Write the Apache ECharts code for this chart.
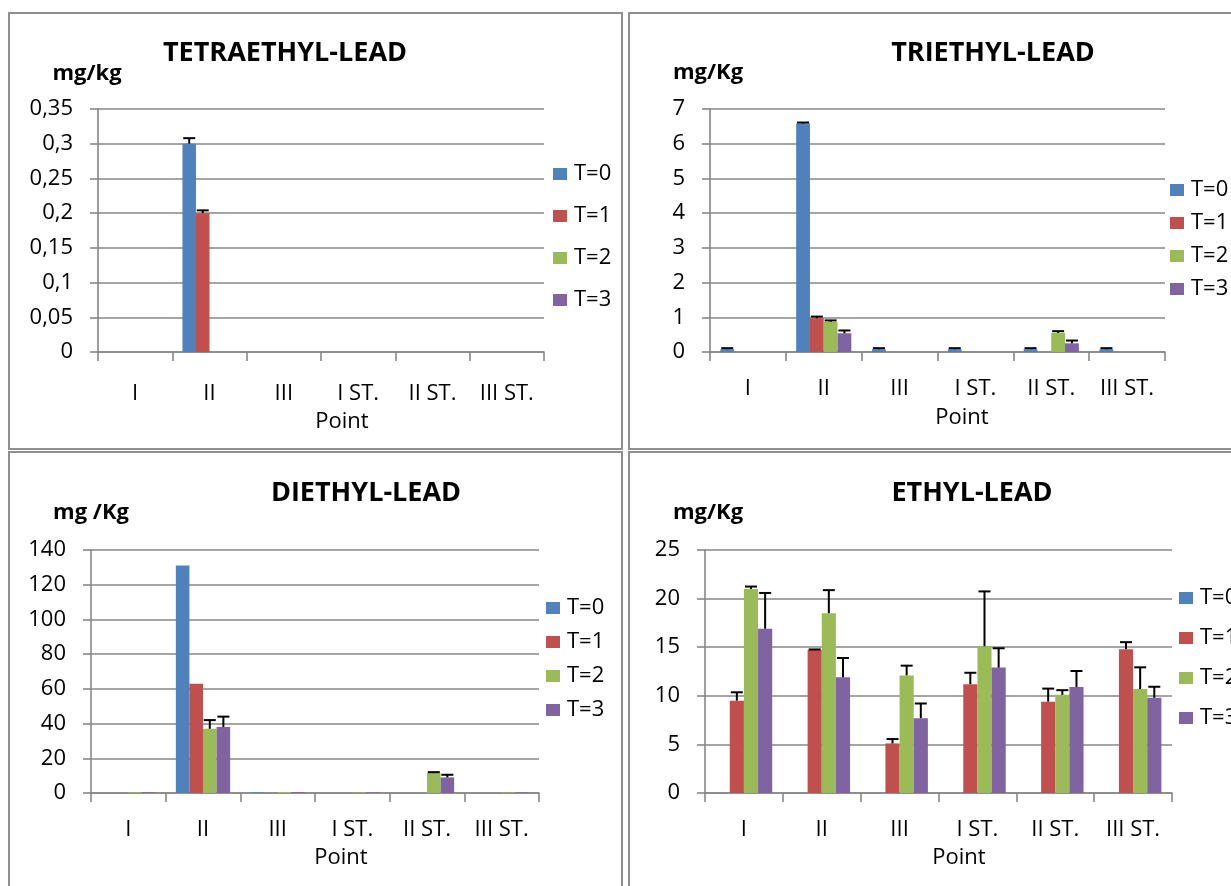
<!DOCTYPE html>
<html>
<head>
<meta charset="utf-8">
<title>Alkyl-lead concentrations by sampling point</title>
<script src="https://cdn.jsdelivr.net/npm/echarts@6/dist/echarts.min.js"></script>
<style>
  html, body { margin: 0; padding: 0; background: #fff; }
  #chart { width: 1231px; height: 886px; }
</style>
</head>
<body>
<div id="chart"></div>
<script>
// Sampling points and sampling times
const categories = ['I', 'II', 'III', 'I ST.', 'II ST.', 'III ST.'];
const timeLabels = ['T=0', 'T=1', 'T=2', 'T=3'];

// TETRAETHYL-LEAD (mg/kg): one row per sampling time
const tetraMeans = [
  [0, 0.30, 0, 0, 0, 0],
  [0, 0.20, 0, 0, 0, 0],
  [0, 0, 0, 0, 0, 0],
  [0, 0, 0, 0, 0, 0]
];
const tetraErrors = [
  [null, 0.008, null, null, null, null],
  [null, 0.004, null, null, null, null],
  [null, null, null, null, null, null],
  [null, null, null, null, null, null]
];

// TRIETHYL-LEAD (mg/Kg)
const triMeans = [
  [0.08, 6.58, 0.08, 0.08, 0.08, 0.08],
  [0, 0.97, 0, 0, 0, 0],
  [0, 0.87, 0, 0, 0.55, 0],
  [0, 0.54, 0, 0, 0.25, 0]
];
const triErrors = [
  [0.03, 0.03, 0.03, 0.03, 0.03, 0.03],
  [null, 0.05, null, null, null, null],
  [null, 0.04, null, null, 0.05, null],
  [null, 0.08, null, null, 0.08, null]
];

// DIETHYL-LEAD (mg/Kg)
const diMeans = [
  [0, 131, 0.3, 0, 0, 0],
  [0, 63, 0, 0, 0, 0],
  [0.4, 37, 0.6, 0.3, 11.5, 0.3],
  [0.4, 38, 0.5, 0.3, 9.0, 0.3]
];
const diErrors = [
  [null, null, null, null, null, null],
  [null, null, null, null, null, null],
  [null, 5, null, null, 0.5, null],
  [null, 6, null, null, 1.5, null]
];

// ETHYL-LEAD (mg/Kg)
const ethMeans = [
  [0, 0, 0, 0, 0, 0],
  [9.5, 14.7, 5.1, 11.2, 9.4, 14.8],
  [21.0, 18.5, 12.1, 15.1, 10.1, 10.7],
  [16.9, 11.9, 7.7, 12.9, 10.9, 9.8]
];
const ethErrors = [
  [null, null, null, null, null, null],
  [0.86, 0.07, 0.45, 1.17, 1.34, 0.72],
  [0.24, 2.37, 1.0, 5.64, 0.48, 2.23],
  [3.68, 1.99, 1.51, 1.99, 1.65, 1.13]
];

// Y-axis ranges
const tetraAxis = { min: 0, max: 0.35, interval: 0.05 };
const triAxis = { min: 0, max: 7, interval: 1 };
const diAxis = { min: 0, max: 140, interval: 20 };
const ethAxis = { min: 0, max: 25, interval: 5 };

const FONT = "'Open Sans', 'Liberation Sans', sans-serif";
const GRID_GRAY = '#878787';
const palette = ['#4F81BD', '#C0504D', '#9BBB59', '#8064A2'];

const panels = [
  {
    title: 'TETRAETHYL-LEAD', unit: 'mg/kg', means: tetraMeans, errors: tetraErrors, axis: tetraAxis,
    grid: { left: 98, top: 109, width: 446, height: 243 },
    labelMargin: 31, comma: true,
    titlePos: [285, 53], unitPos: [87, 74], pointPos: [342, 422],
    legend: { left: 553, top: 163, gap: 20 }
  },
  {
    title: 'TRIETHYL-LEAD', unit: 'mg/Kg', means: triMeans, errors: triErrors, axis: triAxis,
    grid: { left: 710, top: 109, width: 455, height: 243 },
    labelMargin: 26, comma: false,
    titlePos: [993, 53], unitPos: [708, 73], pointPos: [962, 418],
    legend: { left: 1170, top: 179, gap: 11 }
  },
  {
    title: 'DIETHYL-LEAD', unit: 'mg /Kg', means: diMeans, errors: diErrors, axis: diAxis,
    grid: { left: 91, top: 550, width: 448, height: 243 },
    labelMargin: 26, comma: false,
    titlePos: [366, 493], unitPos: [91, 513], pointPos: [341, 858],
    legend: { left: 546, top: 597, gap: 12 }
  },
  {
    title: 'ETHYL-LEAD', unit: 'mg/Kg', means: ethMeans, errors: ethErrors, axis: ethAxis,
    grid: { left: 705, top: 550, width: 467, height: 243 },
    labelMargin: 26, comma: false,
    titlePos: [972, 493], unitPos: [708, 513], pointPos: [959, 858],
    legend: { left: 1179, top: 587, gap: 18 }
  }
];

// Error bars: vertical stem from the bar top plus a cap, placed over the matching bar
function renderErrorBar(params, api) {
  const cat = api.value(0);
  const k = api.value(1);
  const v = api.value(2);
  const e = api.value(3);
  const band = api.size([1, 0])[0];
  const bw = band / 5.5;
  const off = (k - 1.5) * bw;
  const p0 = api.coord([cat, v]);
  const p1 = api.coord([cat, v + e]);
  const x = p0[0] + off;
  const stroke = { stroke: '#000', lineWidth: 2 };
  return {
    type: 'group',
    children: [
      { type: 'line', shape: { x1: x, y1: p0[1], x2: x, y2: p1[1] }, style: stroke },
      { type: 'line', shape: { x1: x - 6, y1: p1[1], x2: x + 6, y2: p1[1] }, style: stroke }
    ]
  };
}

const grids = [], xAxes = [], yAxes = [], series = [], legends = [], graphics = [];

panels.forEach((p, i) => {
  grids.push(Object.assign({ containLabel: false }, p.grid));
  xAxes.push({
    type: 'category', gridIndex: i, data: categories,
    axisLine: { show: true, lineStyle: { color: GRID_GRAY, width: 1.6 } },
    axisTick: { show: true, length: 9, lineStyle: { color: GRID_GRAY, width: 1.6 } },
    axisLabel: { color: '#000', fontSize: 22, fontFamily: FONT, margin: p.labelMargin, interval: 0 },
    splitLine: { show: false }
  });
  yAxes.push({
    type: 'value', gridIndex: i,
    min: p.axis.min, max: p.axis.max, interval: p.axis.interval,
    axisLine: { show: true, lineStyle: { color: GRID_GRAY, width: 1.6 } },
    axisTick: { show: true, length: 8, lineStyle: { color: GRID_GRAY, width: 1.6 } },
    axisLabel: {
      color: '#000', fontSize: 22, fontFamily: FONT, margin: 25,
      formatter: p.comma ? (v => String(+v.toFixed(2)).replace('.', ',')) : (v => String(v))
    },
    splitLine: { show: true, lineStyle: { color: GRID_GRAY, width: 1.6 } }
  });

  timeLabels.forEach((name, k) => {
    series.push({
      type: 'bar', name, xAxisIndex: i, yAxisIndex: i,
      data: p.means[k],
      barGap: '0%', barCategoryGap: '27.27%',
      itemStyle: { color: palette[k] },
      emphasis: { disabled: true },
      z: 2
    });
  });

  const errData = [];
  timeLabels.forEach((name, k) => {
    p.errors[k].forEach((e, c) => {
      if (e !== null) errData.push([c, k, p.means[k][c], e]);
    });
  });
  series.push({
    type: 'custom', name: 'error-' + i, xAxisIndex: i, yAxisIndex: i,
    renderItem: renderErrorBar, data: errData,
    encode: { x: 0, y: 2 }, z: 5, silent: true
  });

  legends.push({
    data: timeLabels, orient: 'vertical', left: p.legend.left, top: p.legend.top,
    itemGap: p.legend.gap, itemWidth: 14, itemHeight: 12, icon: 'rect', padding: 0,
    textStyle: { color: '#000', fontSize: 22, fontFamily: FONT, padding: [0, 0, 0, 2] },
    selectedMode: false
  });

  graphics.push(
    { type: 'text', x: p.titlePos[0], y: p.titlePos[1],
      style: { text: p.title, fill: '#000', font: 'bold 27px ' + FONT, align: 'center', verticalAlign: 'middle', textAlign: 'center', textVerticalAlign: 'middle' } },
    { type: 'text', x: p.unitPos[0], y: p.unitPos[1],
      style: { text: p.unit, fill: '#000', font: 'bold 22px ' + FONT, align: 'center', verticalAlign: 'middle', textAlign: 'center', textVerticalAlign: 'middle' } },
    { type: 'text', x: p.pointPos[0], y: p.pointPos[1],
      style: { text: 'Point', fill: '#000', font: '22px ' + FONT, align: 'center', verticalAlign: 'middle', textAlign: 'center', textVerticalAlign: 'middle' } }
  );
});

// Panel frames
const frameStyle = { fill: 'none', stroke: '#8f8f8f', lineWidth: 2 };
[
  { x: 9, y: 13, width: 613, height: 436 },
  { x: 629, y: 13, width: 620, height: 436 },
  { x: 9, y: 452, width: 613, height: 450 },
  { x: 629, y: 452, width: 620, height: 450 }
].forEach(r => graphics.push({ type: 'rect', shape: r, style: frameStyle, silent: true, z: -1 }));

const chart = echarts.init(document.getElementById('chart'), null, { renderer: 'canvas' });
chart.setOption({
  animation: false,
  backgroundColor: '#fff',
  color: palette,
  textStyle: { fontFamily: FONT },
  grid: grids,
  xAxis: xAxes,
  yAxis: yAxes,
  legend: legends,
  series: series,
  graphic: { elements: graphics }
});
</script>
</body>
</html>
